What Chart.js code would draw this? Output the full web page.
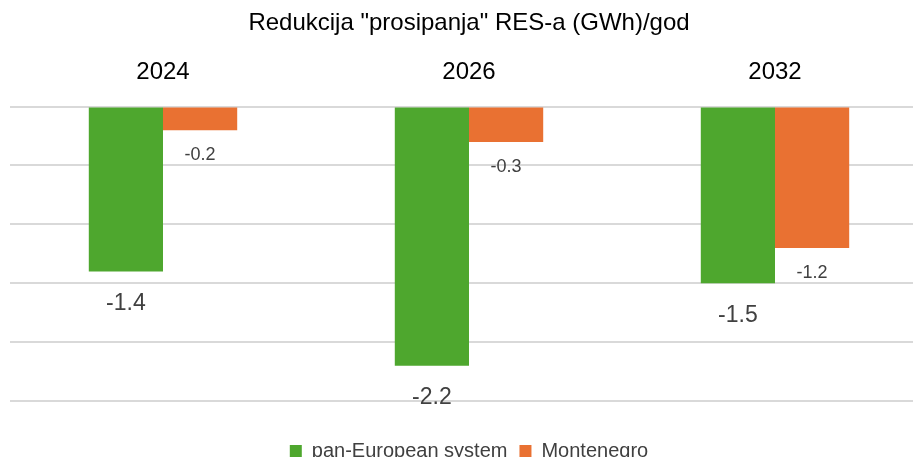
<!DOCTYPE html>
<html>
<head>
<meta charset="utf-8">
<script src="https://cdn.jsdelivr.net/npm/chart.js@4"></script>
<style>
  html, body { margin: 0; padding: 0; background: #fff; overflow: hidden; }
  #wrap { position: relative; width: 928px; height: 471px; }
</style>
</head>
<body>
<div id="wrap"><canvas id="bar_chart"></canvas></div>
<script>
var godine = ["2024", "2026", "2032"];
var panEuropean = [-1.4, -2.2, -1.5];
var montenegro = [-0.2, -0.3, -1.2];
var naslov = 'Redukcija "prosipanja" RES-a (GWh)/god';

var FONT = '"Liberation Sans", Arial, sans-serif';

// labels under the end of every bar
var valueLabels = {
    id: 'valueLabels',
    afterDatasetsDraw: function (chart) {
        var ctx = chart.ctx;
        chart.data.datasets.forEach(function (ds, i) {
            var meta = chart.getDatasetMeta(i);
            var big = i === 0;
            meta.data.forEach(function (bar, j) {
                ctx.save();
                ctx.font = (big ? '23px ' : '18px ') + FONT;
                ctx.fillStyle = '#404040';
                ctx.textAlign = 'center';
                ctx.textBaseline = 'middle';
                ctx.fillText(ds.data[j].toFixed(1), bar.x, bar.y + (big ? 32 : 25));
                ctx.restore();
            });
        });
    }
};

new Chart(document.getElementById("bar_chart").getContext("2d"), {
    type: 'bar',
    data: {
        labels: godine,
        datasets: [{
            label: "pan-European system",
            data: panEuropean,
            backgroundColor: '#4ea72e',
            categoryPercentage: 0.485,
            barPercentage: 1
        }, {
            label: "Montenegro",
            data: montenegro,
            backgroundColor: '#e97132',
            categoryPercentage: 0.485,
            barPercentage: 1
        }]
    },
    options: {
        responsive: true,
        maintainAspectRatio: false,
        animation: false,
        layout: { padding: { left: 10, right: 0, top: 0, bottom: 0 } },
        plugins: {
            title: {
                display: true,
                text: naslov,
                color: '#000',
                font: { family: FONT, size: 24, weight: 'normal' },
                padding: { top: 9, bottom: 0 }
            },
            legend: {
                position: 'bottom',
                labels: {
                    color: '#404040',
                    font: { family: FONT, size: 20 },
                    boxWidth: 12,
                    boxHeight: 12,
                    padding: 12
                }
            },
            tooltip: { enabled: false }
        },
        scales: {
            x: {
                position: 'top',
                grid: { display: false, drawTicks: false },
                border: { display: false },
                ticks: {
                    color: '#000',
                    font: { family: FONT, size: 24 },
                    padding: 20
                }
            },
            // empty axis, only leaves room between the plot and the legend
            razmak: {
                type: 'category',
                position: 'bottom',
                grid: { display: false, drawTicks: false },
                border: { display: false },
                ticks: { display: false },
                afterFit: function (scale) { scale.height = 28; }
            },
            y: {
                min: -2.5,
                max: 0,
                ticks: { display: false, stepSize: 0.5 },
                grid: { color: '#d9d9d9', lineWidth: 2, drawTicks: false },
                border: { display: false }
            }
        }
    },
    plugins: [valueLabels]
});
</script>
</body>
</html>
